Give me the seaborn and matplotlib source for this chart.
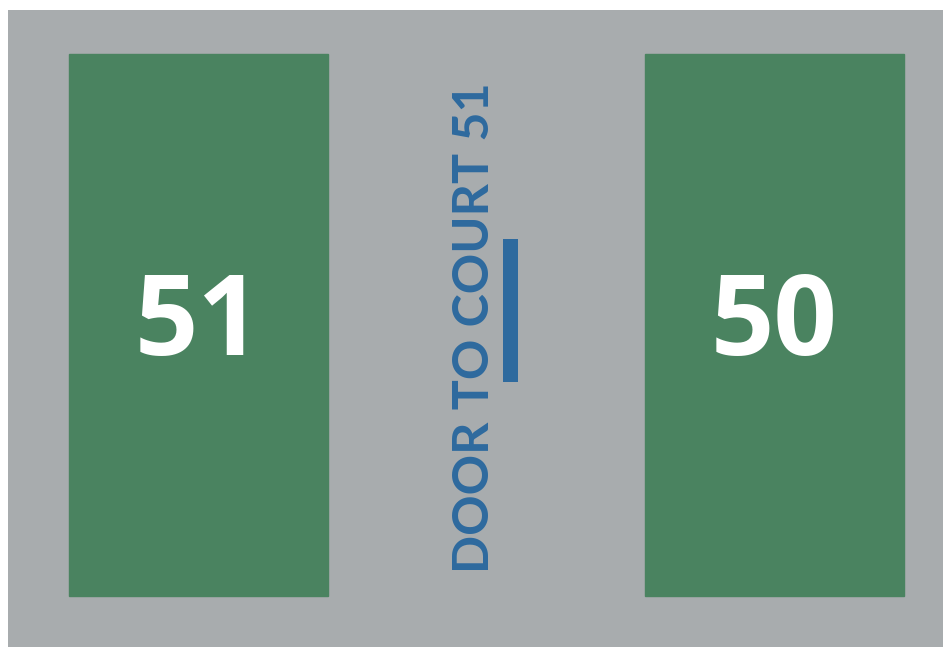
import matplotlib
matplotlib.use("Agg")
import matplotlib.pyplot as plt
import seaborn as sns
import pandas as pd

# court layout (units: pixels of the original drawing)
courts = ["51", "50"]
court_height = [542, 542]
door_label = "DOOR TO COURT 51"
door_bar = {"x": 0.5417, "bottom": 214, "height": 143, "width": 0.026}

gray = "#a8acae"
green = "#4a8360"
blue = "#2e6a9e"

sns.set_theme(style="white")
plt.rcParams["font.family"] = ["Lato", "DejaVu Sans"]

df = pd.DataFrame({"court": courts, "height": court_height})

fig = plt.figure(figsize=(9.43, 6.47), dpi=100, facecolor="white")
ax = fig.add_axes([8 / 943, 0, 935 / 943, 637 / 647])
ax.set_facecolor(gray)

sns.barplot(data=df, x="court", y="height", color=green, width=0.45,
            saturation=1, ax=ax, edgecolor=green)

# court numbers
for i, c in enumerate(courts):
    ax.text(i, 241, c, ha="center", va="baseline", color="white",
            fontsize=80, fontweight="bold", family=["Open Sans", "DejaVu Sans"])

ax.text(0.480, 268.5, door_label, rotation=90, ha="center", va="center",
        color=blue, fontsize=36.2, fontweight="bold")

ax.bar(door_bar["x"], door_bar["height"], bottom=door_bar["bottom"],
       width=door_bar["width"], color=blue, edgecolor=blue, linewidth=0)

ax.set_xlim(-0.3307, 1.2925)
ax.set_ylim(-51, 586)
for s in ax.spines.values():
    s.set_visible(False)
ax.set_xticks([])
ax.set_yticks([])
ax.set_xlabel("")
ax.set_ylabel("")

fig.savefig("out.png", dpi=100, facecolor="white")
